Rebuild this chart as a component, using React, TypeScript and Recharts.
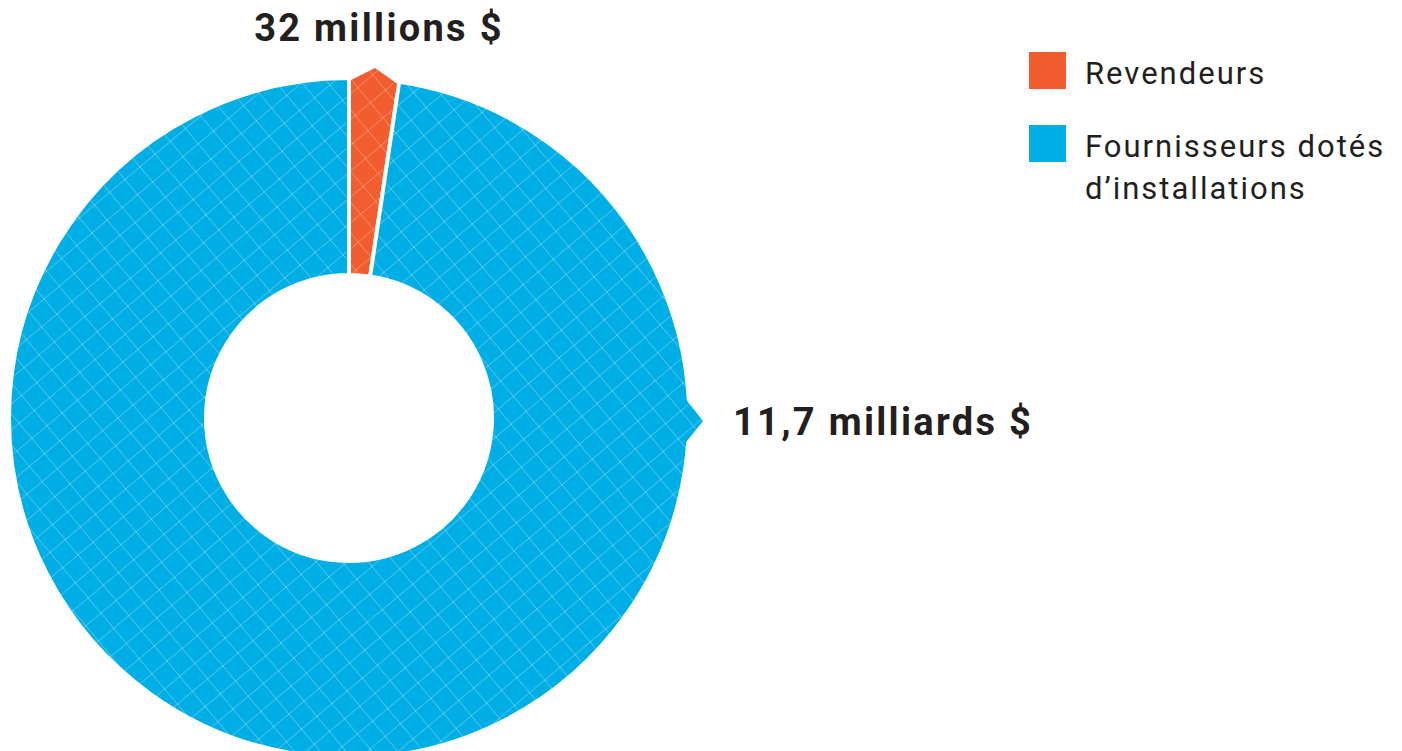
import React from "react";
import { PieChart, Pie, Cell, Legend } from "recharts";

const categories = ["Revendeurs", "Fournisseurs dotés d’installations"];
const valuesMillions = [32, 11700];
const valueLabels = ["32 millions $", "11,7 milliards $"];
const colors = ["#F15D2F", "#00AEE6"];
const hatchColors = ["#F6906F", "#5CCBF0"];

const data = categories.map((name, i) => ({ name, value: valuesMillions[i], label: valueLabels[i] }));

const RAD = Math.PI / 180;
const TEXT = "#231F20";

const renderLabel = (props: any) => {
  const { cx, cy, midAngle, startAngle, endAngle, outerRadius, index } = props;
  const pt = (r: number, a: number) => [cx + r * Math.cos(-a * RAD), cy + r * Math.sin(-a * RAD)];
  const R = outerRadius - 2;
  const delta = (2 / R) / RAD;
  let a1: number, a2: number, aTip: number, tipExt: number;
  if (index === 0) {
    a1 = startAngle - delta;
    a2 = endAngle + delta;
    aTip = midAngle;
    tipExt = 13;
  } else {
    aTip = -0.5;
    const half = (21 / R) / RAD;
    a1 = aTip + half;
    a2 = aTip - half;
    tipExt = 16;
  }
  const p = [pt(R - 10, a1), pt(R, a1), pt(R + tipExt, aTip), pt(R, a2), pt(R - 10, a2)];
  const tip = p[2];
  const pts = p.map((q) => q.join(",")).join(" ");
  const textProps =
    index === 0
      ? { x: tip[0] + 4, y: tip[1] - 27, textAnchor: "middle" as const }
      : { x: tip[0] + 30, y: tip[1] + 14, textAnchor: "start" as const };
  return (
    <g key={`lab-${index}`}>
      <polygon points={pts} fill={`url(#hatch${index})`} stroke="none" />
      <text
        {...textProps}
        fill={TEXT}
        fontFamily="Roboto, sans-serif"
        fontWeight={700}
        fontSize={38}
        letterSpacing={2.3}
      >
        {data[index].label}
      </text>
    </g>
  );
};

const renderLegend = () => {
  return (
    <div style={{ position: "relative", width: 373, height: 200, fontFamily: "Roboto, sans-serif", fontSize: 31, letterSpacing: 2, color: TEXT }}>
      {categories.map((c, i) => (
        <div key={c} style={{ position: "absolute", left: 0, top: i * 73, display: "flex", alignItems: "flex-start" }}>
          <div style={{ width: 37, height: 37, background: colors[i], flex: "none" }} />
          <div style={{ marginLeft: 19, width: 310, lineHeight: "42px", marginTop: 1 }}>{c}</div>
        </div>
      ))}
    </div>
  );
};

export default function App() {
  return (
    <div style={{ position: "absolute", left: 0, top: 0, width: 1402, height: 751, background: "#fff", overflow: "hidden" }}>
      <svg width={0} height={0} style={{ position: "absolute" }}>
        <defs>
          {colors.map((c, i) => (
            <pattern key={i} id={`hatch${i}`} patternUnits="userSpaceOnUse" width={28} height={28} patternTransform="rotate(5)">
              <rect x={-2} y={-2} width={32} height={32} fill={c} />
              <path d="M-1,-1 L29,29 M29,-1 L-1,29" stroke={hatchColors[i]} strokeWidth={1} fill="none" />
            </pattern>
          ))}
        </defs>
      </svg>
      <PieChart width={1402} height={751} margin={{ top: 0, right: 0, bottom: 0, left: 0 }}>
        <Pie
          data={data}
          dataKey="value"
          nameKey="name"
          cx={349}
          cy={418}
          innerRadius={143}
          outerRadius={340}
          startAngle={90}
          endAngle={-270}
          minAngle={7.55}
          paddingAngle={0}
          stroke="#ffffff"
          strokeWidth={4}
          label={renderLabel}
          labelLine={false}
          isAnimationActive={false}
        >
          {data.map((d, i) => (
            <Cell key={d.name} fill={`url(#hatch${i})`} />
          ))}
        </Pie>
        <Legend
          layout="vertical"
          align="center"
          verticalAlign="middle"
          content={renderLegend}
          wrapperStyle={{ position: "absolute", left: 1029, top: 52, width: 373, height: 200 }}
        />
      </PieChart>
    </div>
  );
}
